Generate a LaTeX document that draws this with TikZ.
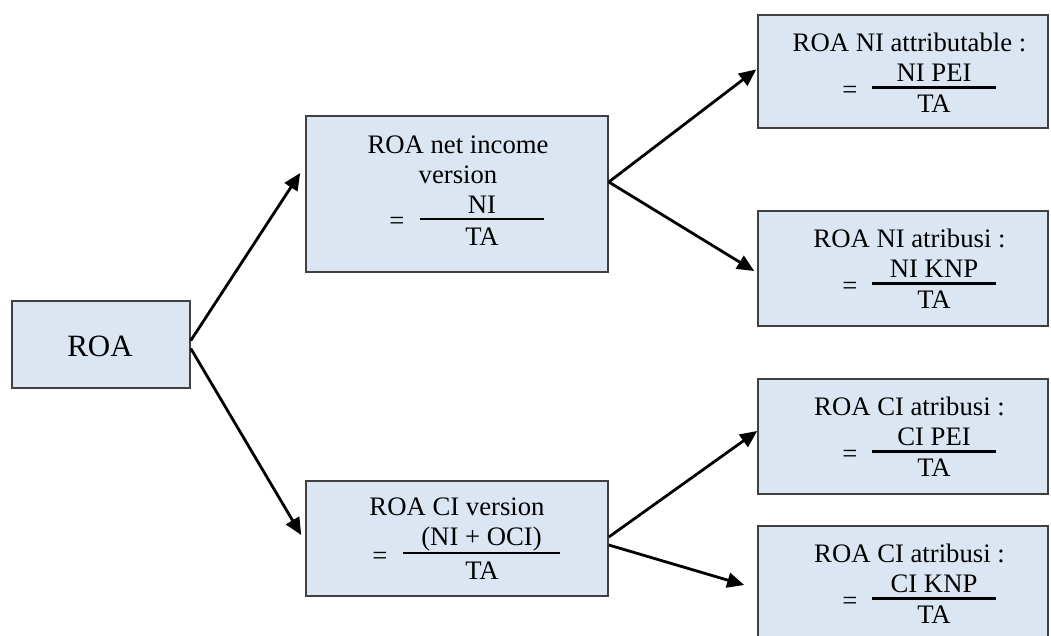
\documentclass[tikz,border=0pt]{standalone}
\usepackage{fontspec}
\setmainfont{Liberation Serif}
\usetikzlibrary{arrows.meta,calc}
\definecolor{boxfill}{HTML}{DCE6F2}
\definecolor{boxline}{HTML}{404040}
\begin{document}
\begin{tikzpicture}[x=1pt,y=-1pt,
  box/.style={draw=boxline,fill=boxfill,line width=1.6pt,rectangle,inner sep=0pt},
  txt/.style={inner sep=0pt,anchor=base,font=\fontsize{26.7}{30}\selectfont},
  bar/.style={line width=2.4pt},
  conn/.style={line width=2.8pt,-{Triangle[length=17pt,width=15pt]}}]
\useasboundingbox (0,0) rectangle (1051,635);
\clip (0,0) rectangle (1051,635);
% boxes
\node[box,minimum width=178pt,minimum height=87pt] (roa) at (101,344.5) {};
\node[box,minimum width=302pt,minimum height=156pt] (mid1) at (457,194) {};
\node[box,minimum width=302pt,minimum height=115pt] (mid2) at (457,538.5) {};
\node[box,minimum width=290pt,minimum height=113pt] (r1) at (903,71.5) {};
\node[box,minimum width=290pt,minimum height=115pt] (r2) at (903,268.5) {};
\node[box,minimum width=290pt,minimum height=115pt] (r3) at (903,436.5) {};
\node[box,minimum width=290pt,minimum height=124pt] (r4) at (903,588) {};
% ROA
\node[txt,font=\fontsize{31}{34}\selectfont] (troa) at (100,356) {ROA};
% mid1
\node[txt] (m1a) at (458,153) {ROA net income};
\node[txt] (m1b) at (458,183) {version};
\node[txt] (m1n) at (482,213) {NI};
\draw[bar] (420,219) -- (544,219);
\node[txt] (m1d) at (482,245) {TA};
\node[txt] (m1e) at (397,229) {=};
% mid2
\node[txt] (m2a) at (457,515) {ROA CI version};
\node[txt] (m2n) at (481.5,545) {(NI + OCI)};
\draw[bar] (403,553) -- (560,553);
\node[txt] (m2d) at (482,579) {TA};
\node[txt] (m2e) at (380,564) {=};
% right boxes
\foreach \nm/\top/\ttl/\num in {a/15/{ROA NI attributable :}/{NI PEI},
  b/211/{ROA NI atribusi :}/{NI KNP},
  c/379/{ROA CI atribusi :}/{CI PEI},
  d/526/{ROA CI atribusi :}/{CI KNP}}{
  \node[txt] (r\nm t) at (909.5,\top+36) {\ttl};
  \node[txt] (r\nm n) at (934,\top+66) {\num};
  \draw[bar] (872,\top+72.5) -- (996,\top+72.5);
  \node[txt] (r\nm d) at (934,\top+97.5) {TA};
  \node[txt] (r\nm e) at (850,\top+83) {=};
}
% connectors
\draw[conn] ($(roa.east)+(0,-4)$) -- ($(mid1.west)+(-5,-21)$);
\draw[conn] ($(roa.east)+(0,4)$) -- ($(mid2.west)+(-4,-3.5)$);
\draw[conn] ($(mid1.east)+(0,-12)$) -- ($(r1.west)+(-1,-2)$);
\draw[conn] ($(mid1.east)+(0,-12)$) -- ($(r2.west)+(-3,2.5)$);
\draw[conn] ($(mid2.east)+(0,-1.5)$) -- ($(r3.west)+(0,-5.5)$);
\draw[conn] ($(mid2.east)+(0,6.5)$) -- ($(r4.west)+(-13,-3)$);
\end{tikzpicture}
\end{document}
